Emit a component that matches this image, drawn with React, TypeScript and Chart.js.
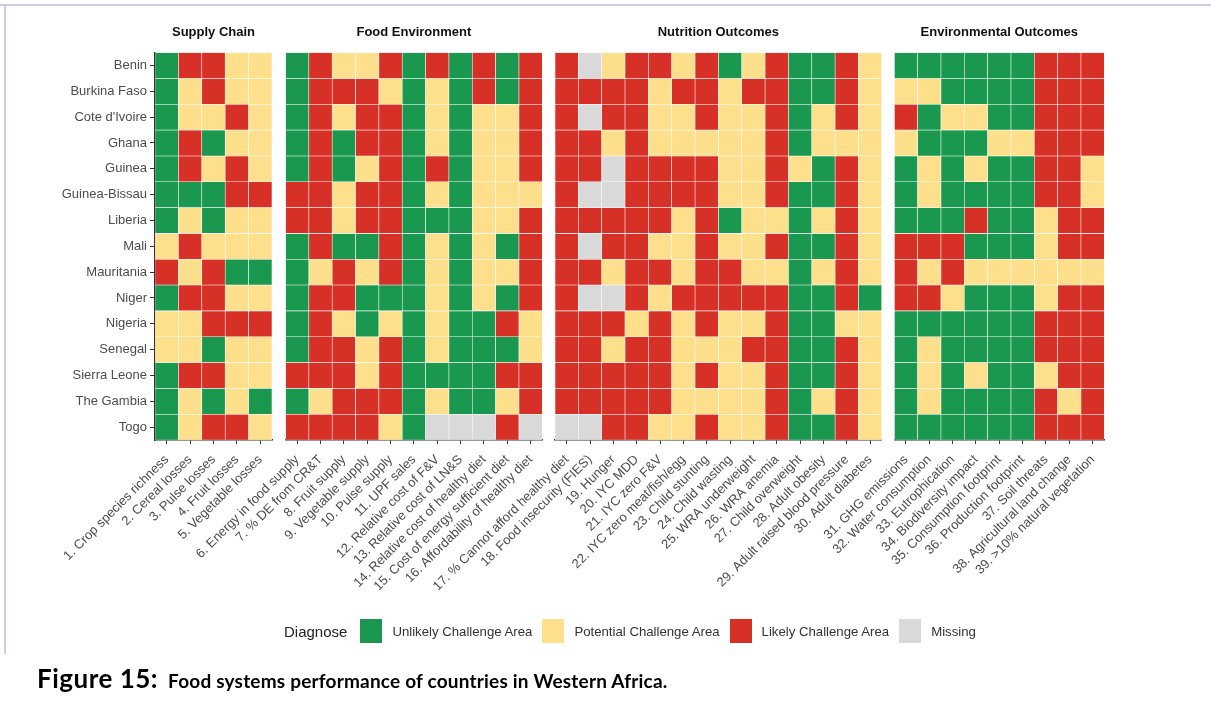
import React, { useEffect, useRef } from "react";
import { Chart, registerables } from "chart.js";

Chart.register(...registerables);

// ---------- DATA ----------
const countries = [
  "Benin", "Burkina Faso", "Cote d'Ivoire", "Ghana", "Guinea", "Guinea-Bissau", "Liberia",
  "Mali", "Mauritania", "Niger", "Nigeria", "Senegal", "Sierra Leone", "The Gambia", "Togo",
];

const supplyChainIndicators = [
  "1. Crop species richness", "2. Cereal losses", "3. Pulse losses", "4. Fruit losses", "5. Vegetable losses",
];
const foodEnvironmentIndicators = [
  "6. Energy in food supply", "7. % DE from CR&T", "8. Fruit supply", "9. Vegetable supply", "10. Pulse supply",
  "11. UPF sales", "12. Relative cost of F&V", "13. Relative cost of LN&S", "14. Relative cost of healthy diet",
  "15. Cost of energy sufficient diet", "16. Affordability of healthy diet",
];
const nutritionIndicators = [
  "17. % Cannot afford healthy diet", "18. Food insecurity (FIES)", "19. Hunger", "20. IYC MDD", "21. IYC zero F&V",
  "22. IYC zero meat/fish/egg", "23. Child stunting", "24. Child wasting", "25. WRA underweight", "26. WRA anemia",
  "27. Child overweight", "28. Adult obesity", "29. Adult raised blood pressure", "30. Adult diabetes",
];
const environmentalIndicators = [
  "31. GHG emissions", "32. Water consumption", "33. Eutrophication", "34. Biodiversity impact",
  "35. Consumption footprint", "36. Production footprint", "37. Soil threats", "38. Agricultural land change",
  "39. >10% natural vegetation",
];

// Diagnose codes per country (row order = countries): G unlikely, Y potential, R likely, M missing
const supplyChainValues = [
  "GRRYY", "GYRYY", "GYYRY", "GRGYY", "GRYRY", "GGGRR", "GYGYY", "YRYYY",
  "RYRGG", "GRRYY", "YYRRR", "YYGYY", "GRRYY", "GYGYG", "GYRRY",
];
const foodEnvironmentValues = [
  "GRYYRGRGRGR", "GRRRYGYGRGR", "GRYRRGYGYYR", "GRGRRGYGYYR", "GRGYRGRGYYR",
  "RRYRRGYGYYY", "RRYRRGGGYYR", "GRGGRGYGYGR", "GYRYRGYGYYR", "GRRGGGYGYGR",
  "GRYGYGYGGRY", "GRRYRGYGGGY", "RRRYRGGGGRR", "GYRRRGYGGYR", "RRRRYGMMMRM",
];
const nutritionValues = [
  "RMYRRYRGYRGGRY", "RRRRYRRYRRGGRY", "RMRRYYRYYRGYRY", "RRYRYYYYYRGYYY", "RRMRRRRYYRYGRY",
  "RMMRRRRYYRGGRY", "RRRRRYRGYYGYRY", "RMRRYYRYYRGGRY", "RRYRRYRRYYGYRY", "RMMRYRRRRRGGRG",
  "RRRYRYRYYRGGYY", "RRYRRYYYRRGGRY", "RRRRRYRYYRGGRY", "RRRRRYYYYRGYRY", "MMRRYYRYYRGGRY",
];
const environmentalValues = [
  "GGGGGGRRR", "YYGGGGRRR", "RGYYGGRRR", "YGGGYYRRR", "GYGYGGRRY",
  "GYGGGGRRY", "GGGRGGYRR", "RRRGGGYRR", "RYRYYYYYY", "RRYGGGYRR",
  "GGGGGGRRR", "GYGGGGRRR", "GYGYGGYRR", "GYGGGGRYR", "GGGGGGRRR",
];

const panelTitles = ["Supply Chain", "Food Environment", "Nutrition Outcomes", "Environmental Outcomes"];

const diagnoseCodes = ["G", "Y", "R", "M"];
const diagnoseLabels = ["Unlikely Challenge Area", "Potential Challenge Area", "Likely Challenge Area", "Missing"];
const diagnoseColors: Record<string, string> = {
  G: "#1a9850",
  Y: "#fddf8c",
  R: "#d73027",
  M: "#d9d9d9",
};

// ---------- LAYOUT ----------
const W = 1211;
const H = 702;
const FONT = "'Liberation Sans', Arial, Helvetica, sans-serif";
const PLOT_TOP_PAD = 18;
const PLOT_BOTTOM = 440;
const XAXIS_H = 150;

const panels = [
  { title: panelTitles[0], indicators: supplyChainIndicators, values: supplyChainValues, left: 155, right: 272, showY: true },
  { title: panelTitles[1], indicators: foodEnvironmentIndicators, values: foodEnvironmentValues, left: 285.5, right: 542.3, showY: false },
  { title: panelTitles[2], indicators: nutritionIndicators, values: nutritionValues, left: 555, right: 881.8, showY: false },
  { title: panelTitles[3], indicators: environmentalIndicators, values: environmentalValues, left: 894.3, right: 1104.3, showY: false },
];

type PanelCfg = typeof panels[number];

function Panel({ cfg }: { cfg: PanelCfg }) {
  const ref = useRef<HTMLCanvasElement | null>(null);
  useEffect(() => {
    if (!ref.current) return;
    const datasets = countries.map((c, i) => ({
      label: c,
      data: cfg.indicators.map(() => [i, i + 1] as [number, number]),
      backgroundColor: cfg.values[i].split("").map((k) => diagnoseColors[k]),
      borderColor: "rgba(255,255,255,0.7)",
      borderWidth: 0.6,
      borderSkipped: false as const,
      grouped: false,
      categoryPercentage: 1,
      barPercentage: 1,
    }));
    const chart = new Chart(ref.current, {
      type: "bar",
      data: { labels: cfg.indicators, datasets },
      options: {
        animation: false,
        responsive: false,
        maintainAspectRatio: false,
        events: [],
        layout: {
          autoPadding: false,
          padding: {
            top: PLOT_TOP_PAD,
            left: cfg.showY ? 0 : cfg.left,
            right: W - cfg.right,
            bottom: H - PLOT_BOTTOM - XAXIS_H,
          },
        },
        plugins: {
          legend: { display: false },
          tooltip: { enabled: false },
          title: {
            display: true,
            text: cfg.title,
            fullSize: false,
            align: "center",
            color: "#111111",
            font: { family: FONT, size: 13, weight: "bold" },
            padding: { top: 7, bottom: 12 },
          },
        },
        scales: {
          x: {
            type: "category",
            offset: true,
            afterFit: (s: any) => {
              s.height = XAXIS_H;
              s.paddingLeft = 0;
              s.paddingRight = 0;
            },
            ticks: {
              autoSkip: false,
              maxRotation: 45,
              minRotation: 45,
              padding: 8,
              color: "#4d4d4d",
              font: { family: FONT, size: 13 },
            },
            grid: {
              offset: false,
              drawOnChartArea: false,
              drawTicks: true,
              tickLength: 4,
              color: "#333333",
              lineWidth: 1,
            },
            border: { display: true, color: "#333333", width: 1.5 },
          },
          y: {
            type: "linear",
            min: 0,
            max: countries.length,
            reverse: true,
            display: cfg.showY,
            afterBuildTicks: (s: any) => {
              s.ticks = countries.map((_, i) => ({ value: i + 0.5 }));
            },
            afterFit: (s: any) => {
              if (cfg.showY) s.width = cfg.left;
              s.paddingTop = 0;
              s.paddingBottom = 0;
            },
            ticks: {
              autoSkip: false,
              padding: 3,
              color: "#4d4d4d",
              font: { family: FONT, size: 13 },
              callback: (v: any) => countries[Math.floor(Number(v))] ?? "",
            },
            grid: {
              drawOnChartArea: false,
              drawTicks: true,
              tickLength: 5,
              color: "#333333",
              lineWidth: 1,
            },
            border: { display: true, color: "#333333", width: 1.5 },
          },
        },
      } as any,
    });
    return () => chart.destroy();
  }, [cfg]);
  return (
    <canvas
      ref={ref}
      width={W}
      height={H}
      style={{ position: "absolute", left: 0, top: 0, width: W, height: H }}
    />
  );
}

function Legend() {
  return (
    <div
      style={{
        position: "absolute",
        left: 284,
        top: 619,
        height: 24,
        display: "flex",
        alignItems: "center",
        fontFamily: FONT,
        color: "#222",
      }}
    >
      <span style={{ fontSize: 15, marginRight: 13 }}>Diagnose</span>
      {diagnoseCodes.map((code, i) => (
        <React.Fragment key={code}>
          <span
            style={{
              display: "inline-block",
              width: 22,
              height: 24,
              background: diagnoseColors[code],
              marginRight: 10,
            }}
          />
          <span style={{ fontSize: 13.2, marginRight: 10, color: "#333" }}>{diagnoseLabels[i]}</span>
        </React.Fragment>
      ))}
    </div>
  );
}

export default function App() {
  return (
    <div style={{ position: "absolute", left: 0, top: 0, width: W, height: H, background: "#fff", overflow: "hidden" }}>
      <div style={{ position: "absolute", left: 0, top: 4, width: W, height: 2, background: "#c9cee2" }} />
      <div style={{ position: "absolute", left: 4, top: 4, width: 2, height: 650, background: "#c9cee2" }} />
      {panels.map((p) => (
        <Panel key={p.title} cfg={p} />
      ))}
      <Legend />
      <div
        style={{
          position: "absolute",
          left: 37,
          top: 662,
          fontFamily: "Lato, 'Open Sans', sans-serif",
          fontWeight: 700,
          color: "#000",
          whiteSpace: "nowrap",
          display: "flex",
          alignItems: "baseline",
        }}
      >
        <span style={{ fontSize: 26, letterSpacing: 0.5 }}>Figure 15:</span>
        <span style={{ fontSize: 19, letterSpacing: 0.2, marginLeft: 10 }}>
          Food systems performance of countries in Western Africa.
        </span>
      </div>
    </div>
  );
}
